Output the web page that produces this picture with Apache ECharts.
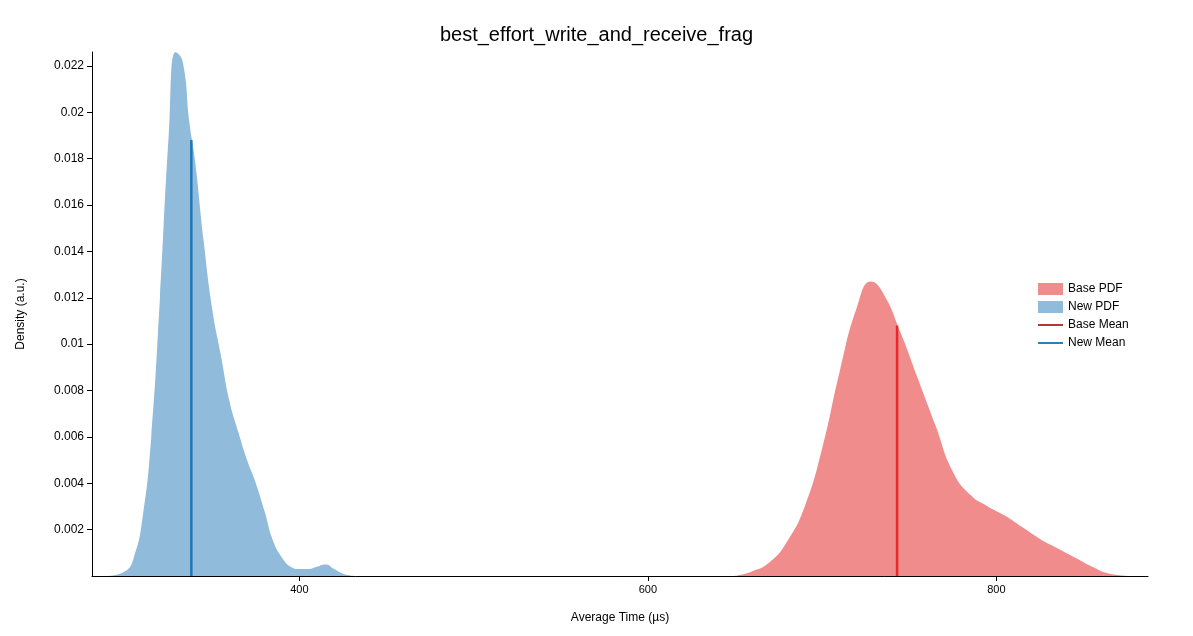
<!DOCTYPE html>
<html>
<head>
<meta charset="utf-8">
<script src="https://cdn.jsdelivr.net/npm/echarts@6/dist/echarts.min.js"></script>
</head>
<body style="margin:0">
<div id="chart" style="width:1193px;height:636px;"></div>
<script>
	// density curves
	var newX = [290, 300, 305, 310, 315, 320, 325, 329, 333, 337, 340, 345, 350, 355, 360, 365, 370, 375, 380, 385, 390, 395, 400, 405, 410, 415, 420, 425, 432];
	var newY = [0, 0.0002, 0.0008, 0.0025, 0.006, 0.012, 0.019, 0.0226, 0.0222, 0.0195, 0.018, 0.0145, 0.0115, 0.0095, 0.0075, 0.0062, 0.005, 0.004, 0.0028, 0.0015, 0.0008, 0.0004, 0.0003, 0.0003, 0.0004, 0.0005, 0.0003, 0.0001, 0];
	var baseX = [650, 660, 670, 680, 690, 700, 710, 720, 728, 735, 745, 755, 765, 775, 785, 795, 805, 815, 825, 835, 845, 855, 865, 878];
	var baseY = [0, 0.0002, 0.0006, 0.0015, 0.003, 0.0055, 0.0088, 0.0116, 0.0127, 0.0122, 0.0105, 0.0085, 0.0065, 0.0045, 0.0035, 0.003, 0.0026, 0.0021, 0.0016, 0.0012, 0.0008, 0.0004, 0.0001, 0];
	var newMean = [338, 0.0188];
	var baseMean = [743, 0.0108];
	var xTicks = [400, 600, 800];

	function pairs(xs, ys) {
		var out = [];
		for (var i = 0; i < xs.length; i++) out.push([xs[i], ys[i]]);
		return out;
	}
	var lineIcon = 'path://M0,0L40,0L40,3L0,3Z';

	var myEchart = echarts.init(document.getElementById("chart"));
	var option = {
		animation: false,
		textStyle: {fontFamily: 'Arial, Liberation Sans, sans-serif'},
		title: {
			text: 'best_effort_write_and_receive_frag',
			left: 'center', top: 20,
			textStyle: {fontSize: 20, fontWeight: 'normal', color: '#000'}
		},
		legend: {
			orient: 'vertical', left: 1033, top: 278, itemGap: 6,
			itemWidth: 25, itemHeight: 12,
			textStyle: {fontSize: 12, color: '#000'},
			data: [
				{name: 'Base PDF', icon: 'rect'},
				{name: 'New PDF', icon: 'rect'},
				{name: 'Base Mean', icon: lineIcon},
				{name: 'New Mean', icon: lineIcon}
			]
		},
		grid: {left: 92, right: 45, top: 52, bottom: 60},
		xAxis: {
			type: 'value', min: 281, max: 887,
			name: 'Average Time (µs)', nameLocation: 'middle', nameGap: 36,
			nameTextStyle: {fontSize: 12, color: '#000'},
			axisLine: {lineStyle: {color: '#000'}},
			axisTick: {customValues: xTicks, lineStyle: {color: '#000'}},
			axisLabel: {customValues: xTicks, color: '#000', fontSize: 11},
			splitLine: {show: false}
		},
		yAxis: {
			type: 'value', min: 0, max: 0.0226, interval: 0.002,
			name: 'Density (a.u.)', nameLocation: 'middle', nameGap: 65,
			nameTextStyle: {fontSize: 12, color: '#000'},
			axisLine: {show: true, lineStyle: {color: '#000'}},
			axisTick: {show: true, lineStyle: {color: '#000'}},
			axisLabel: {color: '#000', fontSize: 12, showMinLabel: false, showMaxLabel: false,
				formatter: function (v) { return v === 0 ? '' : +v.toFixed(3); }},
			splitLine: {show: false}
		},
		series: [
			{name: 'Base PDF', type: 'line', data: pairs(baseX, baseY), showSymbol: false, smooth: true,
				lineStyle: {width: 0}, itemStyle: {color: '#f08c8c'}, areaStyle: {color: '#f08c8c', opacity: 1}},
			{name: 'New PDF', type: 'line', data: pairs(newX, newY), showSymbol: false, smooth: true,
				lineStyle: {width: 0}, itemStyle: {color: '#91bbdb'}, areaStyle: {color: '#91bbdb', opacity: 1}},
			{name: 'Base Mean', type: 'line', data: [[baseMean[0], 0], baseMean], showSymbol: false,
				itemStyle: {color: '#b22a2a'}, lineStyle: {color: '#e8282a', width: 2.5}},
			{name: 'New Mean', type: 'line', data: [[newMean[0], 0], newMean], showSymbol: false,
				itemStyle: {color: '#1f77b4'}, lineStyle: {color: '#1f77b4', width: 2.5}}
		]
	};
	myEchart.setOption(option);
</script>
</body>
</html>
